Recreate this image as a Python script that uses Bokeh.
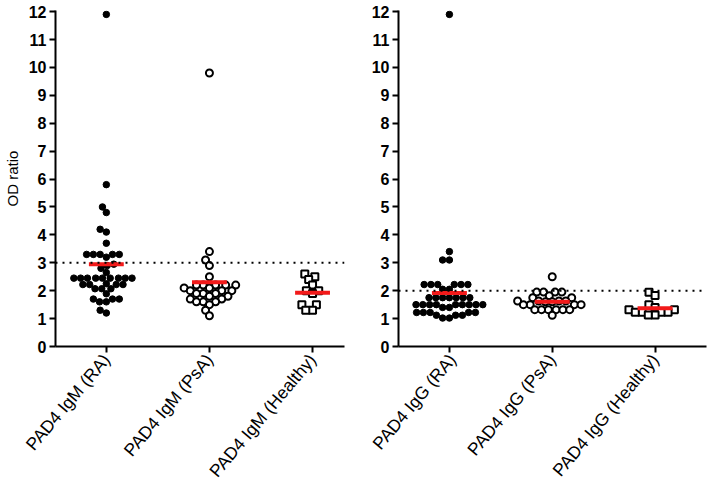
import math
from bokeh.plotting import figure
from bokeh.layouts import row
from bokeh.models import FixedTicker, Span
from bokeh.embed import file_html
from bokeh.resources import INLINE

# ---- data ----
igm_labels = ["PAD4 IgM (RA)", "PAD4 IgM (PsA)", "PAD4 IgM (Healthy)"]
igg_labels = ["PAD4 IgG (RA)", "PAD4 IgG (PsA)", "PAD4 IgG (Healthy)"]

igm_ra = [11.9, 5.8, 5.0, 4.8, 4.2, 4.1, 3.7, 3.3, 3.3, 3.3, 3.3, 3.3, 3.2, 2.95, 2.9, 2.8,
          2.65, 2.45, 2.45, 2.45, 2.45, 2.45, 2.45, 2.45, 2.45, 2.45, 2.25, 2.22, 2.22, 2.22,
          2.22, 2.07, 2.07, 2.07, 1.89, 1.7, 1.7, 1.7, 1.6, 1.6, 1.3, 1.2]
igm_psa = [9.8, 3.4, 3.1, 2.9, 2.5, 2.2, 2.2, 2.2, 2.2, 2.2, 2.1, 2.1, 2.0, 2.0, 2.0, 1.9,
           1.9, 1.9, 1.8, 1.8, 1.7, 1.7, 1.6, 1.6, 1.6, 1.5, 1.3, 1.1]
igm_healthy = [2.6, 2.5, 2.4, 2.2, 2.0, 2.0, 1.9, 1.5, 1.5, 1.3, 1.3]
igm_means = [2.95, 2.3, 1.93]
igm_cutoff = 3.0

igg_ra = [11.9, 3.4, 3.1, 3.1, 2.22, 2.22, 2.22, 2.22, 2.22, 2.22, 2.05, 2.05, 1.75, 1.75,
          1.75, 1.75, 1.75, 1.75, 1.75, 1.5, 1.5, 1.5, 1.5, 1.5, 1.5, 1.5, 1.5, 1.5, 1.4,
          1.4, 1.22, 1.22, 1.22, 1.22, 1.22, 1.12, 1.12, 1.12, 1.02, 1.02]
igg_psa = [2.5, 1.95, 1.95, 1.95, 1.95, 1.82, 1.75, 1.75, 1.63, 1.63, 1.63, 1.63, 1.6, 1.6,
           1.5, 1.5, 1.5, 1.5, 1.32, 1.32, 1.32, 1.32, 1.32, 1.32, 1.12]
igg_healthy = [1.94, 1.83, 1.5, 1.4, 1.32, 1.32, 1.23, 1.23, 1.23, 1.23, 1.13, 1.13]
igg_means = [1.92, 1.6, 1.37]
igg_cutoff = 2.0

FONT = "Liberation Sans"
H = 490
TOP, BOTTOM = 10, 144
Y_END = 12.04


def swarm(vals, center, ppx, ppy, d):
    placed = []
    offs = [0.0] * len(vals)
    order = sorted(range(len(vals)), key=lambda i: vals[i])
    for i in order:
        y = vals[i] * ppy
        forb = []
        for (xp, yp) in placed:
            dy = abs(y - yp)
            if dy < d:
                dx = math.sqrt(d * d - dy * dy)
                forb.append((xp - dx, xp + dx))
        cands = [0.0] + [a for a, b in forb] + [b for a, b in forb]
        cands.sort(key=lambda c: (abs(c), c))
        x = 0.0
        for c in cands:
            if all(not (a + 1e-6 < c < b - 1e-6) for a, b in forb):
                x = c
                break
        placed.append((x, y))
        offs[i] = x / ppx
    return [center + o for o in offs]


def make_panel(width, mbl, mbr, xr, labels, groups, means, cutoff, ylabel):
    p = figure(width=width, height=H, output_backend="svg", toolbar_location=None,
               x_range=xr, y_range=(0, Y_END), min_border_left=mbl,
               min_border_right=mbr, min_border_top=TOP, min_border_bottom=BOTTOM)
    p.outline_line_color = None
    p.grid.visible = False
    p.background_fill_color = "white"

    frame_w = width - mbl - mbr
    frame_h = H - TOP - BOTTOM
    ppx = frame_w / (xr[1] - xr[0])
    ppy = frame_h / Y_END

    p.add_layout(Span(location=cutoff, dimension="width", line_color="black",
                      line_width=2, line_dash="2 5"))

    styles = [dict(marker="circle", fill_color="black", line_color="black", size=6.5, line_width=1),
              dict(marker="circle", fill_color="white", line_color="black", size=7, line_width=2),
              dict(marker="square", fill_color="white", line_color="black", size=7, line_width=2)]
    for k, (vals, st) in enumerate(zip(groups, styles)):
        xs = swarm(vals, k + 1, ppx, ppy, 6.8)
        p.scatter(xs, vals, **st)

    half = 17.5 / ppx
    cats = [1, 2, 3]
    p.segment(x0=[c - half for c in cats], x1=[c + half for c in cats],
              y0=means, y1=means, line_color="#f21a1a", line_width=4)

    p.yaxis.ticker = FixedTicker(ticks=list(range(0, 13)))
    p.xaxis.ticker = FixedTicker(ticks=cats)
    p.xaxis.major_label_overrides = {c: l for c, l in zip(cats, labels)}
    p.xaxis.major_label_orientation = 0.87
    for ax in (p.xaxis, p.yaxis):
        ax.axis_line_width = 2
        ax.axis_line_color = "black"
        ax.major_tick_line_width = 2
        ax.major_tick_line_color = "black"
        ax.major_tick_in = 0
        ax.major_tick_out = 6
        ax.minor_tick_line_color = None
        ax.major_label_text_font = FONT
        ax.major_label_text_color = "black"
    p.yaxis.major_label_text_font_size = "16px"
    p.yaxis.major_label_text_font_style = "bold"
    p.yaxis.major_label_standoff = 3
    p.xaxis.major_label_text_font_size = "17.5px"
    p.xaxis.major_label_standoff = 4
    if ylabel:
        p.yaxis.axis_label = ylabel
        p.yaxis.axis_label_text_font = FONT
        p.yaxis.axis_label_text_font_size = "15px"
        p.yaxis.axis_label_text_font_style = "normal"
        p.yaxis.axis_label_text_color = "black"
        p.yaxis.axis_label_standoff = 5
    return p


left = make_panel(368, 54, 24, (0.507, 3.31), igm_labels,
                  [igm_ra, igm_psa, igm_healthy], igm_means, igm_cutoff, "OD ratio")
right = make_panel(339, 30, 1, (0.505, 3.5), igg_labels,
                   [igg_ra, igg_psa, igg_healthy], igg_means, igg_cutoff, None)

layout = row(left, right)
open("out.html", "w").write(file_html(layout, INLINE))
